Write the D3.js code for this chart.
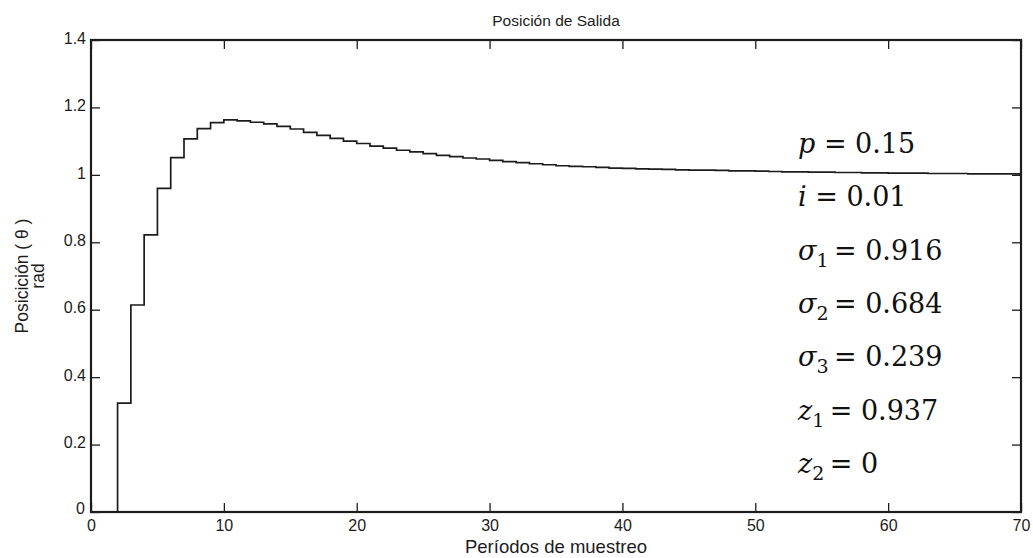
<!DOCTYPE html>
<html>
<head>
<meta charset="utf-8">
<script src="https://cdn.jsdelivr.net/npm/d3@7/dist/d3.min.js"></script>
<style>
  html, body { margin: 0; padding: 0; background: #fff; }
  svg { display: block; }
</style>
</head>
<body>
<svg id="chart" width="1033" height="558"></svg>
<script>
// Sample index k (periods) and sampled output position (rad), held between samples
const samples = d3.range(0, 71);
const position = [
  0, 0, 0.323, 0.614, 0.822, 0.960, 1.051, 1.107, 1.137, 1.155,
  1.163, 1.160, 1.156, 1.151, 1.144, 1.136, 1.126, 1.117, 1.108, 1.100,
  1.093, 1.085, 1.079, 1.073, 1.068, 1.063, 1.058, 1.054, 1.050, 1.047,
  1.043, 1.039, 1.036, 1.033, 1.030, 1.027, 1.025, 1.024, 1.022, 1.020,
  1.019, 1.018, 1.017, 1.016, 1.015, 1.014, 1.014, 1.013, 1.012, 1.012,
  1.011, 1.010, 1.009, 1.009, 1.008, 1.008, 1.007, 1.007, 1.006, 1.006,
  1.005, 1.005, 1.005, 1.004, 1.004, 1.004, 1.003, 1.003, 1.003, 1.003,
  1.002
];

const xTicks = [0, 10, 20, 30, 40, 50, 60, 70];
const yTicks = [0, 0.2, 0.4, 0.6, 0.8, 1, 1.2, 1.4];

// Controller parameters shown beside the curve
const paramNames = ["p", "i", "σ", "σ", "σ", "z", "z"];
const paramSubs  = ["", "", "1", "2", "3", "1", "2"];
const paramVals  = ["0.15", "0.01", "0.916", "0.684", "0.239", "0.937", "0"];

const titleText = "Posición de Salida";
const xLabelText = "Períodos de muestreo";
const yLabelLines = ["Posicición ( θ )", "rad"];

const svg = d3.select("#chart");
const ink = "#1c1c1c";
const sans = "Liberation Sans, Arial, sans-serif";

const x = d3.scaleLinear().domain([0, 70]).range([91, 1021]);
const y = d3.scaleLinear().domain([0, 1.4]).range([512, 40]);
const tickLen = 9;

// Step response (zero-order hold)
const line = d3.line()
  .x((d, i) => x(samples[i]))
  .y(d => y(d))
  .curve(d3.curveStepAfter);

svg.append("path")
  .datum(position)
  .attr("d", line)
  .attr("fill", "none")
  .attr("stroke", ink)
  .attr("stroke-width", 1.7);

// Axes: ticks point inward on all four sides
const fmt = d => d3.format("")(d);
const axBottom = d3.axisBottom(x).tickValues(xTicks).tickSize(-tickLen).tickPadding(8).tickFormat(fmt);
const axTop = d3.axisTop(x).tickValues(xTicks).tickSize(-tickLen).tickFormat("");
const axLeft = d3.axisLeft(y).tickValues(yTicks).tickSize(-tickLen).tickPadding(5).tickFormat(fmt);
const axRight = d3.axisRight(y).tickValues(yTicks).tickSize(-tickLen).tickFormat("");

function styleAxis(g) {
  g.select(".domain").remove();
  g.selectAll(".tick line").attr("stroke", ink).attr("stroke-width", 1.3);
  g.selectAll(".tick text").attr("fill", ink).style("font-family", sans).style("font-size", "16px");
}

svg.append("g").attr("transform", `translate(0,${y(0)})`).call(axBottom).call(styleAxis);
svg.append("g").attr("transform", `translate(0,${y(1.4)})`).call(axTop).call(styleAxis);
const gLeft = svg.append("g").attr("transform", `translate(${x(0)},0)`).call(axLeft).call(styleAxis);
gLeft.selectAll(".tick text").attr("dy", "0.2em");
// the origin label sits just above the corner, as in the bottom-left of the axes
gLeft.selectAll(".tick").filter(d => d === 0).select("text").attr("dy", "0.1em").attr("x", -6);
svg.append("g").attr("transform", `translate(${x(70)},0)`).call(axRight).call(styleAxis);

// Axes box
svg.append("rect")
  .attr("x", x(0)).attr("y", y(1.4))
  .attr("width", x(70) - x(0)).attr("height", y(0) - y(1.4))
  .attr("fill", "none").attr("stroke", ink).attr("stroke-width", 2.2);

// Title
svg.append("text")
  .attr("x", (x(0) + x(70)) / 2).attr("y", 26)
  .attr("text-anchor", "middle")
  .style("font-family", sans).style("font-size", "15.5px").attr("fill", ink)
  .text(titleText);

// X label
svg.append("text")
  .attr("x", (x(0) + x(70)) / 2).attr("y", 553)
  .attr("text-anchor", "middle")
  .style("font-family", sans).style("font-size", "18.5px").attr("fill", ink)
  .text(xLabelText);

// Y label (two lines)
const yMid = (y(0) + y(1.4)) / 2;
yLabelLines.forEach((t, i) => {
  svg.append("text")
    .attr("transform", `translate(${28 + i * 16},${yMid}) rotate(-90)`)
    .attr("text-anchor", "middle")
    .style("font-family", sans).style("font-size", "17.5px").attr("fill", ink)
    .text(t);
});

// Parameter annotations
const ann = svg.append("g")
  .style("font-family", "DejaVu Serif, Liberation Serif, serif")
  .style("font-size", "27px")
  .attr("fill", "#111");

paramNames.forEach((name, i) => {
  const t = ann.append("text").attr("x", 798).attr("y", 153 + i * 53.3);
  t.append("tspan").style("font-style", "italic").text(name);
  if (paramSubs[i]) {
    t.append("tspan").attr("dy", 7).style("font-size", "19px").text(paramSubs[i]);
    t.append("tspan").attr("dy", -7).text("\u2009= " + paramVals[i]);
  } else {
    t.append("tspan").text(" = " + paramVals[i]);
  }
});
</script>
</body>
</html>
